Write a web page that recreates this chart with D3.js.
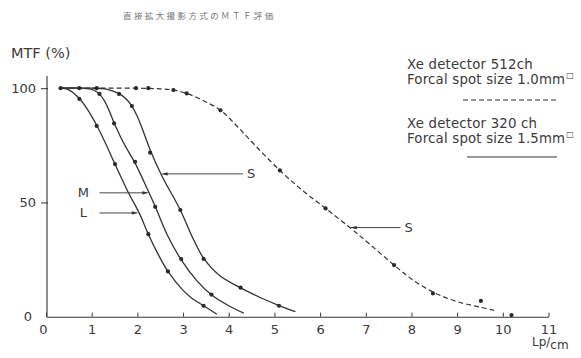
<!DOCTYPE html>
<html>
<head>
<meta charset="utf-8">
<script src="https://cdn.jsdelivr.net/npm/d3@7"></script>
<style>
  html, body { margin: 0; padding: 0; background: #fff; }
  svg { display: block; }
  text { font-family: "DejaVu Sans", sans-serif; fill: #3a3a3a; }
</style>
</head>
<body>
<svg id="chart" width="581" height="358"></svg>
<script>
// Axis ticks
const xTicks = [0, 1, 2, 3, 4, 5, 6, 7, 8, 9, 10, 11];
const yTicks = [0, 50, 100];

// Fitted MTF curves (spatial frequency lp/cm, MTF %)
const curveL = [[0.32,100],[0.5,99.3],[0.73,95.5],[0.9,91],[1.11,83.8],[1.3,76],[1.51,66.8],[1.8,54.5],[2.05,45],[2.24,36.1],[2.45,27.5],[2.67,19.8],[3.0,11.5],[3.2,8],[3.45,4.8],[3.74,1.1]];
const curveM = [[0.32,100],[0.8,100],[1.05,99.1],[1.17,97.4],[1.27,94.8],[1.38,90.3],[1.49,84.9],[1.7,76],[1.95,67.2],[2.22,55.8],[2.39,48.3],[2.65,36],[2.95,25.2],[3.3,15.8],[3.62,9.6],[4.0,4.8],[4.33,1.6]];
const curveS = [[0.32,100],[1.0,100],[1.3,99.7],[1.6,97.6],[1.75,95.4],[1.88,92.2],[2.0,87.6],[2.14,80.5],[2.28,73],[2.54,61.5],[2.94,46.7],[3.2,35],[3.45,25.6],[3.8,18],[4.25,12.7],[4.7,8.3],[5.09,5],[5.46,2.2]];
const curveHiRes = [[0.32,100],[1.0,100],[2.0,100],[2.5,99.7],[2.79,99.2],[3.08,97.7],[3.4,95],[3.82,90.3],[4.2,83],[4.6,74.5],[5.12,64],[5.6,55.5],[6.12,47.4],[6.67,38.7],[7.1,31.5],[7.62,22.6],[8.0,16.5],[8.47,10.8],[9.0,6.6],[9.5,4.2],[9.81,2.8]];

// Measured points
const pointsL = [[0.73,95.3],[1.11,83.5],[1.51,66.8],[2.24,36.1],[2.67,19.8],[3.45,4.8]];
const pointsM = [[1.17,97.5],[1.49,84.6],[1.95,67.8],[2.39,48.1],[2.96,25.2],[3.62,9.7]];
const pointsS = [[1.60,97.5],[1.88,92.2],[2.28,71.8],[2.94,46.7],[3.45,25.3],[4.26,12.7],[5.1,4.8]];
const pointsHiRes = [[0.32,100],[0.73,100],[1.11,100],[1.97,100],[2.24,100],[2.79,99.2],[3.08,97.7],[3.82,90.3],[5.12,64],[6.12,47.4],[7.62,22.6],[8.47,10.2],[9.52,6.9],[10.19,0.7]];

// Curve labels: name, value on the curve the arrow points at, label x
const labelsSolid = [["S", 2.51, 62.5, 4.4], ["M", 2.26, 54.2, 0.95], ["L", 2.03, 45.4, 0.95]];
const labelsDashed = [["S", 6.65, 39, 7.85]];

const svg = d3.select("#chart");
const x = d3.scaleLinear().domain([0, 11]).range([46, 548.5]);
const y = d3.scaleLinear().domain([0, 100]).range([316.7, 88.2]);
const ink = "#333";

// Title
svg.append("text")
  .attr("x", 123).attr("y", 19)
  .style("font-family", "'Noto Sans CJK JP', sans-serif")
  .attr("font-size", 8.5).attr("letter-spacing", 2.4)
  .style("fill", "#777")
  .text("直接拡大撮影方式のＭＴＦ評価");

// Y axis title
svg.append("text").attr("x", 11).attr("y", 58).attr("font-size", 14.5).text("MTF (%)");

// X axis
const xAxis = d3.axisBottom(x).tickValues(xTicks).tickSizeInner(-4).tickSizeOuter(0).tickPadding(8)
  .tickFormat(d3.format("d"));
const gx = svg.append("g").attr("transform", `translate(0,${y(0)})`).call(xAxis);
gx.select(".domain").attr("stroke", ink).attr("stroke-width", 1.1);
gx.selectAll(".tick line").attr("stroke", ink);
gx.selectAll(".tick text").attr("font-size", 13).style("fill", "#3a3a3a")
  .attr("font-family", null)
  .attr("dx", d => d === 0 ? -3 : 0);

// Y axis
const yAxis = d3.axisLeft(y).tickValues(yTicks).tickSizeInner(5).tickSizeOuter(0).tickPadding(6)
  .tickFormat(d3.format("d"));
const gy = svg.append("g").attr("transform", `translate(${x(0) + 1},0)`).call(yAxis);
gy.select(".domain").attr("d", `M0,${y(0)}V76`).attr("stroke", ink).attr("stroke-width", 1.1);
gy.selectAll(".tick line").attr("stroke", ink).attr("x2", -6).attr("x1", 1).style("display", d => d === 0 ? "none" : null);
gy.selectAll(".tick text").attr("font-size", 13).style("fill", "#3a3a3a").attr("font-family", null)
  .attr("dx", d => d === 0 ? -4 : 0);

// Unit label
const unit = svg.append("text").attr("x", 532).attr("y", 346).attr("font-size", 12);
unit.append("tspan").text("Lp/");
unit.append("tspan").attr("dy", 3).text("cm");

// Curves
const line = d3.line().x(d => x(d[0])).y(d => y(d[1])).curve(d3.curveCatmullRom.alpha(0.5));
[curveL, curveM, curveS].forEach(c => {
  svg.append("path").datum(c).attr("d", line)
    .attr("fill", "none").attr("stroke", ink).attr("stroke-width", 1.3);
});
svg.append("path").datum(curveHiRes).attr("d", line)
  .attr("fill", "none").attr("stroke", ink).attr("stroke-width", 1.2)
  .attr("stroke-dasharray", "5,3");

// Points
[pointsL, pointsM, pointsS, pointsHiRes].forEach(p => {
  svg.append("g").selectAll("circle").data(p).join("circle")
    .attr("cx", d => x(d[0])).attr("cy", d => y(d[1])).attr("r", 2.1).attr("fill", "#2a2a2a");
});

// Arrow labels
function arrowLabel(name, xv, yv, lx) {
  const tx = x(xv), ty = y(yv), sx = x(lx);
  const dir = sx > tx ? 1 : -1;
  const startX = dir > 0 ? sx - 4 : sx + 10;
  svg.append("line").attr("x1", startX).attr("y1", ty).attr("x2", tx + dir * 5).attr("y2", ty)
    .attr("stroke", "#444").attr("stroke-width", 1);
  svg.append("path")
    .attr("d", `M${tx},${ty}L${tx + dir * 7},${ty - 1.6}L${tx + dir * 7},${ty + 1.6}Z`)
    .attr("fill", "#333");
  svg.append("text").attr("x", dir > 0 ? sx : sx - 6).attr("y", ty + 4.5).attr("font-size", 13)
    .attr("text-anchor", dir > 0 ? "start" : "middle").text(name);
}
labelsSolid.forEach(l => arrowLabel(...l));
labelsDashed.forEach(l => arrowLabel(...l));

// Legend
const legend = [
  { lines: ["Xe detector 512ch", "Forcal spot size 1.0mm"], y: 69, dash: "5,3", ly: 100, lx1: 463, lx2: 558 },
  { lines: ["Xe detector 320 ch", "Forcal spot size 1.5mm"], y: 128, dash: null, ly: 157, lx1: 467, lx2: 557 }
];
legend.forEach(item => {
  svg.append("text").attr("x", 407).attr("y", item.y).attr("font-size", 13.3).attr("letter-spacing", 0.2).text(item.lines[0]);
  const t = svg.append("text").attr("x", 407).attr("y", item.y + 15).attr("font-size", 13.3).attr("letter-spacing", 0.2);
  t.append("tspan").text(item.lines[1]);
  t.append("tspan").attr("dy", -6).attr("dx", 1).attr("font-size", 8).text("□");
  svg.append("line").attr("x1", item.lx1).attr("x2", item.lx2).attr("y1", item.ly).attr("y2", item.ly)
    .attr("stroke", ink).attr("stroke-width", 1.1).attr("stroke-dasharray", item.dash);
});
</script>
</body>
</html>
